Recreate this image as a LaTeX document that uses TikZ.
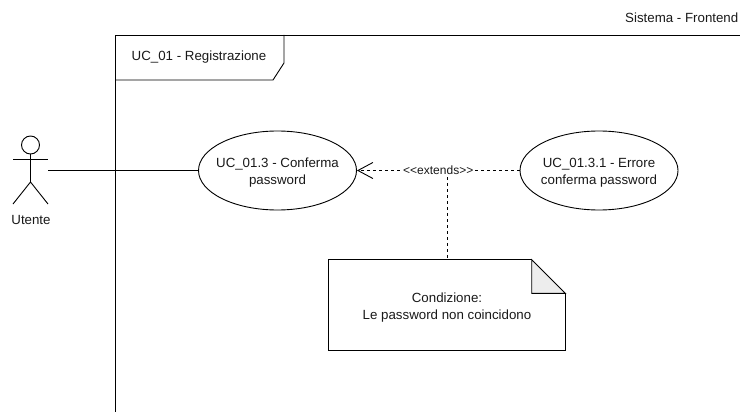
\documentclass[tikz,border=0pt]{standalone}
\usepackage{fontspec}
\setmainfont{Liberation Sans}
\usetikzlibrary{arrows.meta,calc,shapes.geometric}
\tikzset{
  line/.style={draw=black,line width=0.9pt},
  usecase/.style={line,ellipse,fill=white,minimum width=158pt,minimum height=79pt,inner sep=-15pt,align=center,text=black!90,font=\fontsize{13.3}{17}\selectfont},
  lbl/.style={inner sep=0pt,align=center,font=\fontsize{13.3}{17}\selectfont,text=black!90},
  dashln/.style={line,dash pattern=on 3pt off 3pt},
}
\newcommand{\lowerfirst}[1]{\rule{0pt}{#1}}
\begin{document}
\begin{tikzpicture}[x=1pt,y=-1pt]
\useasboundingbox (0,0) rectangle (740,412);
% frame
\draw[line] (740,35) -- (115,35) -- (115,412);
\draw[line] (284,35) -- (284,63) -- (273,80) -- (115,80);
\node[lbl] (frametitle) at (199,57.5) {UC\_01 - Registrazione};
\node[lbl,anchor=east] (system) at (738.5,17.5) {Sistema - Frontend};
% actor
\draw[line] (30.5,145) circle (9);
\draw[line] (30.5,154) -- (30.5,182) (13,159) -- (48,159);
\draw[line] (13,204) -- (30.5,182) -- (48,204);
\node[lbl] (actor) at (31,219.5) {Utente};
\coordinate (hand) at (48,170.5);
% use cases
\node[usecase] (uc) at (277.5,170.5) {\lowerfirst{13pt}UC\_01.3 - Conferma\\password};
\node[usecase] (ucerr) at (599,170.5) {\lowerfirst{13pt}UC\_01.3.1 - Errore\\conferma password};
\draw[line] (hand) -- (uc.west);
\draw[dashln,-{Straight Barb[length=15pt,width=16pt,line width=0.9pt]}] (ucerr.west) -- node[pos=0.5,fill=white,inner sep=0.5pt,font=\fontsize{12}{14}\selectfont,text=black!90] (ext) {<{}<extends>{}>} (uc.east);
% note
\node[lbl,minimum width=236pt,minimum height=90pt] (note) at (447,305) {\lowerfirst{14.5pt}Condizione:\\Le password non coincidono};
\coordinate (noteTR) at (note.north east);
\draw[line,fill=black!7] ($(noteTR)+(-33.5,0)$) -- ($(noteTR)+(0,33.5)$) -- ($(noteTR)+(-33.5,33.5)$) -- cycle;
\draw[line] ($(noteTR)+(-33.5,0)$) -- (note.north west) -- (note.south west) -- (note.south east) -- ($(noteTR)+(0,33.5)$);
\coordinate (link) at (447,177);
\draw[dashln] (link) -- (note.north);
\end{tikzpicture}
\end{document}
